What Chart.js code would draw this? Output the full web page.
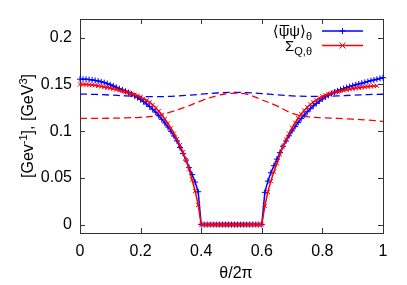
<!DOCTYPE html>
<html>
<head>
<meta charset="utf-8">
<script src="https://cdn.jsdelivr.net/npm/chart.js@4.4.0/dist/chart.umd.min.js"></script>
<style>
  html, body { margin: 0; padding: 0; background: #fff; }
</style>
</head>
<body>
<canvas id="myChart" width="407" height="285"></canvas>
<script>
// condensate <psibar psi>_theta, theta/2pi = 0.00 ... 1.00 step 0.01
let psiSolid = [
  0.1556, 0.1556, 0.1555, 0.1552, 0.1548, 0.1543, 0.1536, 0.1528, 0.1519, 0.1508,
  0.1496, 0.1483, 0.1469, 0.1455, 0.1441, 0.1427, 0.1412, 0.1396, 0.1378, 0.1359,
  0.1338, 0.1315, 0.1290, 0.1263, 0.1234, 0.1203, 0.1165, 0.1127, 0.1087, 0.1044,
  0.0998, 0.0948, 0.0896, 0.0825, 0.0762, 0.0690, 0.0610, 0.0535, 0.0455, 0.0352,
  0, 0, 0, 0, 0, 0, 0, 0, 0, 0,
  0, 0, 0, 0, 0, 0, 0, 0, 0, 0,
  0, 0.0345, 0.0465, 0.0555, 0.0630, 0.0700, 0.0772, 0.0838, 0.0895, 0.0950,
  0.1002, 0.1049, 0.1093, 0.1134, 0.1172, 0.1207, 0.1240, 0.1270, 0.1297, 0.1322,
  0.1345, 0.1366, 0.1385, 0.1402, 0.1417, 0.1431, 0.1444, 0.1456, 0.1467, 0.1477,
  0.1487, 0.1496, 0.1505, 0.1513, 0.1522, 0.1531, 0.1540, 0.1548, 0.1556, 0.1564,
  0.1572
];

// Sigma_{Q,theta}, theta/2pi = 0.00 ... 0.98 step 0.01
let sigmaSolid = [
  0.1500, 0.1500, 0.1499, 0.1497, 0.1494, 0.1490, 0.1485, 0.1479, 0.1472, 0.1466,
  0.1460, 0.1453, 0.1446, 0.1438, 0.1429, 0.1420, 0.1411, 0.1401, 0.1390, 0.1378,
  0.1364, 0.1348, 0.1330, 0.1308, 0.1282, 0.1250, 0.1215, 0.1175, 0.1130, 0.1082,
  0.1030, 0.0975, 0.0915, 0.0850, 0.0775, 0.0690, 0.0590, 0.0480, 0.0360, 0.0210,
  0, 0, 0, 0, 0, 0, 0, 0, 0, 0,
  0, 0, 0, 0, 0, 0, 0, 0, 0, 0,
  0, 0.0200, 0.0350, 0.0465, 0.0565, 0.0655, 0.0750, 0.0835, 0.0910, 0.0975,
  0.1035, 0.1090, 0.1140, 0.1183, 0.1222, 0.1256, 0.1285, 0.1311, 0.1334, 0.1354,
  0.1372, 0.1385, 0.1396, 0.1406, 0.1415, 0.1423, 0.1430, 0.1437, 0.1443, 0.1449,
  0.1455, 0.1460, 0.1465, 0.1469, 0.1473, 0.1477, 0.1480, 0.1483, 0.1485
];

// dashed curves, theta/2pi = 0.00 ... 1.00 step 0.05
let psiDashed = [
  0.1397, 0.1393, 0.1386, 0.1378, 0.1372, 0.1369, 0.1373, 0.1382, 0.1395, 0.1408,
  0.1415, 0.1412, 0.1402, 0.1388, 0.1377, 0.1372, 0.1372, 0.1377, 0.1385, 0.1391,
  0.1395
];
let sigmaDashed = [
  0.1137, 0.1137, 0.1138, 0.1142, 0.1148, 0.1162, 0.1205, 0.1260, 0.1325, 0.1378,
  0.1405, 0.1395, 0.1335, 0.1270, 0.1190, 0.1155, 0.1143, 0.1137, 0.1128, 0.1118,
  0.1105
];

let xTicks = [0, 0.2, 0.4, 0.6, 0.8, 1];
let yTicks = [0, 0.05, 0.1, 0.15, 0.2];

const FONT = "'Liberation Sans', Arial, 'DejaVu Sans', sans-serif";
const BLUE = "#0000ff";
const RED = "#ff0000";

const pts = (arr, step) => arr.map((v, i) => ({ x: +(i * step).toFixed(2), y: v }));
const fmt = (v) => String(+(+v).toFixed(3));

// rich text: list of [text, size, dy], drawn left to right from x
function richWidth(ctx, parts) {
  let w = 0;
  parts.forEach(([t, s]) => { ctx.font = s + "px " + FONT; w += ctx.measureText(t).width; });
  return w;
}
function drawRich(ctx, parts, x, y) {
  let pos = [];
  parts.forEach(([t, s, dy]) => {
    ctx.font = s + "px " + FONT;
    ctx.fillText(t, x, y + (dy || 0));
    let w = ctx.measureText(t).width;
    pos.push([x, x + w]);
    x += w;
  });
  return pos;
}

const framePlugin = {
  id: "frame",
  beforeDatasetsDraw(chart) {
    const { ctx, chartArea: a, scales } = chart;
    ctx.save();
    ctx.strokeStyle = "#333";
    ctx.lineWidth = 1;
    ctx.strokeRect(a.left + 0.5, a.top + 0.5, a.right - a.left, a.bottom - a.top);
    ctx.beginPath();
    const tl = 5;
    xTicks.forEach((v) => {
      const px = Math.round(scales.x.getPixelForValue(v)) + 0.5;
      ctx.moveTo(px, a.bottom); ctx.lineTo(px, a.bottom - tl);
      ctx.moveTo(px, a.top); ctx.lineTo(px, a.top + tl);
    });
    yTicks.forEach((v) => {
      const py = Math.round(scales.y.getPixelForValue(v)) + 0.5;
      ctx.moveTo(a.left, py); ctx.lineTo(a.left + tl, py);
      ctx.moveTo(a.right, py); ctx.lineTo(a.right - tl, py);
    });
    ctx.stroke();
    ctx.restore();
  },
  afterDraw(chart) {
    const { ctx, chartArea: a } = chart;
    ctx.save();
    ctx.fillStyle = "#000";
    ctx.textBaseline = "alphabetic";

    // x title
    ctx.font = "16px " + FONT;
    ctx.textAlign = "center";
    ctx.fillText("θ/2π", 236, 278);

    // y title, rotated
    ctx.textAlign = "left";
    const yParts = [["[Gev", 16], ["-1", 11, -6], ["], [GeV", 16], ["3", 11, -6], ["]", 16]];
    ctx.translate(33, (a.top + a.bottom) / 2);
    ctx.rotate(-Math.PI / 2);
    drawRich(ctx, yParts, -richWidth(ctx, yParts) / 2, 0);
    ctx.setTransform(1, 0, 0, 1, 0, 0);

    // legend
    const right = 312;
    const e1 = [["⟨", 15], ["ψ", 15], ["ψ⟩", 15], ["θ", 11, 4]];
    const p1 = drawRich(ctx, e1, right - richWidth(ctx, e1), 36);
    ctx.strokeStyle = "#000";
    ctx.lineWidth = 1;
    ctx.beginPath();
    ctx.moveTo(p1[1][0] + 1, 25.5); ctx.lineTo(p1[1][1], 25.5);
    ctx.stroke();
    const e2 = [["Σ", 15], ["Q,θ", 11, 4]];
    drawRich(ctx, e2, right - richWidth(ctx, e2), 51);

    [[31, BLUE, "+"], [45.5, RED, "x"]].forEach(([y, c, m]) => {
      ctx.strokeStyle = c;
      ctx.lineWidth = 1.5;
      ctx.beginPath();
      ctx.moveTo(322, y); ctx.lineTo(363, y);
      ctx.stroke();
      ctx.lineWidth = 1;
      ctx.beginPath();
      const mx = 342.5, r = 3;
      if (m === "+") {
        ctx.moveTo(mx - r, y); ctx.lineTo(mx + r, y);
        ctx.moveTo(mx, y - r); ctx.lineTo(mx, y + r);
      } else {
        ctx.moveTo(mx - r, y - r); ctx.lineTo(mx + r, y + r);
        ctx.moveTo(mx - r, y + r); ctx.lineTo(mx + r, y - r);
      }
      ctx.stroke();
    });
    ctx.restore();
  }
};

let ctx = document.getElementById("myChart").getContext("2d");

let chart = new Chart(ctx, {
  type: "line",
  data: {
    datasets: [
      {
        label: "Sigma_Q,theta",
        data: pts(sigmaSolid, 0.01),
        borderColor: RED,
        borderWidth: 1.5,
        pointStyle: "crossRot",
        pointRadius: 3,
        pointBorderWidth: 1,
        pointBorderColor: RED,
        clip: false,
      },
      {
        label: "<psibar psi>_theta",
        data: pts(psiSolid, 0.01),
        borderColor: BLUE,
        borderWidth: 1.5,
        pointStyle: "cross",
        pointRadius: 3,
        pointBorderWidth: 1,
        pointBorderColor: BLUE,
        clip: false,
      },
      {
        label: "sigma dashed",
        data: pts(sigmaDashed, 0.05),
        borderColor: RED,
        borderWidth: 1.3,
        borderDash: [7, 4],
        pointRadius: 0,
        tension: 0.4,
      },
      {
        label: "psi dashed",
        data: pts(psiDashed, 0.05),
        borderColor: BLUE,
        borderWidth: 1.3,
        borderDash: [7, 4],
        pointRadius: 0,
        tension: 0.4,
      },
    ],
  },
  options: {
    responsive: false,
    animation: false,
    devicePixelRatio: 1,
    layout: { padding: { top: 19, right: 24, left: 0, bottom: 0 } },
    plugins: { legend: { display: false }, tooltip: { enabled: false } },
    scales: {
      x: {
        type: "linear",
        min: 0,
        max: 1,
        afterBuildTicks: (s) => { s.ticks = xTicks.map((v) => ({ value: v })); },
        afterFit: (s) => { s.height = 52; },
        ticks: {
          padding: 9,
          color: "#000",
          font: { family: FONT, size: 16 },
          maxRotation: 0,
          autoSkip: false,
          callback: fmt,
        },
        grid: { display: false, drawTicks: false },
        border: { display: false },
      },
      y: {
        min: -0.009,
        max: 0.22,
        afterBuildTicks: (s) => { s.ticks = yTicks.map((v) => ({ value: v })); },
        afterFit: (s) => { s.width = 80; },
        ticks: {
          padding: 8,
          color: "#000",
          font: { family: FONT, size: 16 },
          callback: fmt,
        },
        grid: { display: false, drawTicks: false },
        border: { display: false },
      },
    },
  },
  plugins: [framePlugin],
});
</script>
</body>
</html>
